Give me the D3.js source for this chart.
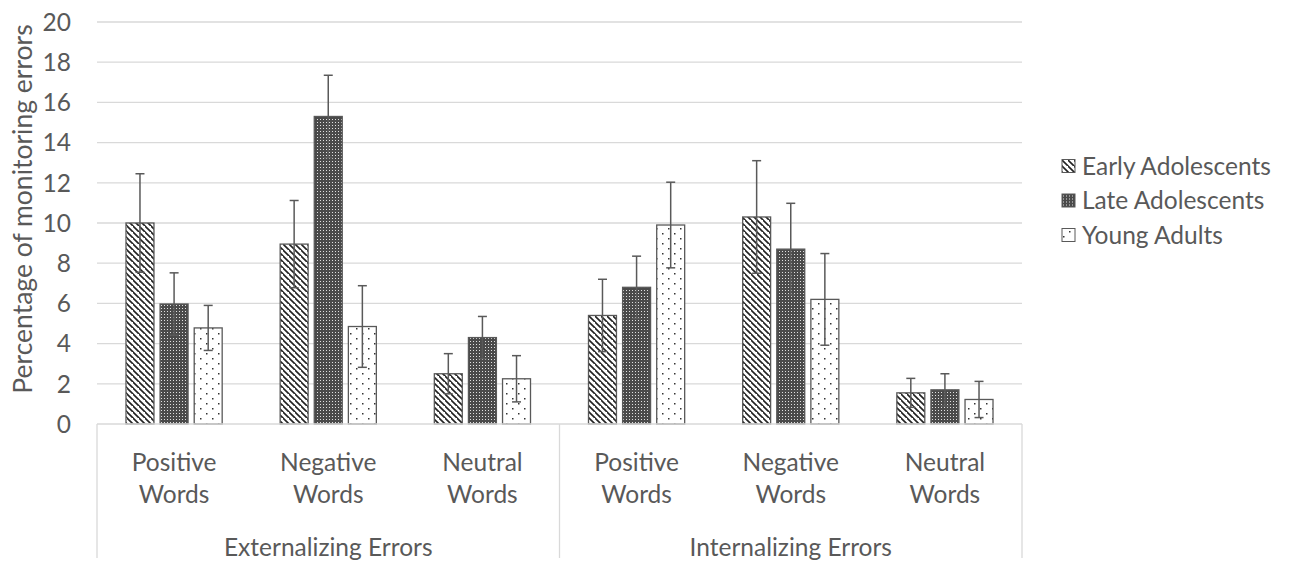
<!DOCTYPE html>
<html>
<head>
<meta charset="utf-8">
<script src="https://cdn.jsdelivr.net/npm/d3@7"></script>
<style>
  body { margin: 0; background: #fff; }
  text { font-family: Lato, "Open Sans", sans-serif; fill: #595959; }
</style>
</head>
<body>
<svg id="chart" width="1293" height="561"></svg>
<script>
// data
const groups = ["Externalizing Errors", "Internalizing Errors"];
const wordTypes = ["Positive Words", "Negative Words", "Neutral Words"];
const seriesNames = ["Early Adolescents", "Late Adolescents", "Young Adults"];
// means, one array per series, 6 categories (Ext pos/neg/neu, Int pos/neg/neu)
const earlyVals = [10.0, 8.95, 2.5, 5.4, 10.3, 1.55];
const lateVals  = [5.97, 15.3, 4.3, 6.8, 8.7, 1.7];
const youngVals = [4.78, 4.85, 2.25, 9.9, 6.2, 1.22];
// error bar half-widths
const earlyErr = [2.45, 2.17, 1.0, 1.8, 2.8, 0.72];
const lateErr  = [1.55, 2.05, 1.05, 1.55, 2.28, 0.8];
const youngErr = [1.12, 2.03, 1.15, 2.13, 2.28, 0.9];
const yTicks = [0, 2, 4, 6, 8, 10, 12, 14, 16, 18, 20];

const svg = d3.select("#chart");
const margin = {left: 97, right: 271, top: 22, bottom: 137};
const width = 1293 - margin.left - margin.right,
      height = 561 - margin.top - margin.bottom;
const fs = "24.5px";

// categories
const cats = [];
groups.forEach(g => wordTypes.forEach(w => cats.push(g + "|" + w)));
const allVals = [earlyVals, lateVals, youngVals];
const allErr = [earlyErr, lateErr, youngErr];
const data = [];
cats.forEach((c, i) => {
  seriesNames.forEach((s, j) => {
    data.push({cat: c, series: s, v: allVals[j][i], e: allErr[j][i], idx: j});
  });
});

// patterns
const defs = svg.append("defs");
const p1 = defs.append("pattern").attr("id", "pat0").attr("patternUnits", "userSpaceOnUse")
  .attr("width", 6).attr("height", 6);
p1.append("rect").attr("width", 6).attr("height", 6).attr("fill", "#fff");
p1.append("path").attr("d", "M-1,-1 L7,7 M-4,2 L2,8 M4,-4 L10,2")
  .attr("stroke", "#222").attr("stroke-width", 1.6);

const p2 = defs.append("pattern").attr("id", "pat1").attr("patternUnits", "userSpaceOnUse")
  .attr("width", 3).attr("height", 3);
p2.append("rect").attr("width", 3).attr("height", 3).attr("fill", "#4a4a4a");
p2.append("rect").attr("x", 1).attr("y", 1).attr("width", 1).attr("height", 1).attr("fill", "#e0e0e0");

const p3 = defs.append("pattern").attr("id", "pat2").attr("patternUnits", "userSpaceOnUse")
  .attr("width", 12).attr("height", 10);
p3.append("rect").attr("width", 12).attr("height", 10).attr("fill", "#fff");
p3.append("rect").attr("x", 1).attr("y", 1).attr("width", 1.5).attr("height", 1.5).attr("fill", "#333");
p3.append("rect").attr("x", 7).attr("y", 6).attr("width", 1.5).attr("height", 1.5).attr("fill", "#333");

const g = svg.append("g").attr("transform", `translate(${margin.left},${margin.top})`);

const x = d3.scaleBand().domain(cats).range([0, width]);
const xs = d3.scaleBand().domain(seriesNames).range([0, x.bandwidth()])
  .paddingInner(0.18).paddingOuter(0.85);
const y = d3.scaleLinear().domain([0, 20]).range([height, 0]);

// grid
g.selectAll("line.grid").data(yTicks.slice(1)).enter().append("line")
  .attr("x1", 0).attr("x2", width)
  .attr("y1", d => y(d)).attr("y2", d => y(d))
  .attr("stroke", "#d9d9d9").attr("stroke-width", 1.3);

// y tick labels
g.selectAll("text.ytick").data(yTicks).enter().append("text")
  .attr("x", -26).attr("y", d => y(d)).attr("dy", "0.36em")
  .attr("text-anchor", "end").style("font-size", fs)
  .text(d => d);

// bars
g.selectAll("rect.bar").data(data).enter().append("rect")
  .attr("x", d => x(d.cat) + xs(d.series))
  .attr("y", d => y(d.v))
  .attr("width", xs.bandwidth())
  .attr("height", d => height - y(d.v))
  .attr("fill", d => `url(#pat${d.idx})`)
  .attr("stroke", "#595959").attr("stroke-width", 1.3);

// error bars
const eb = g.selectAll("g.err").data(data).enter().append("g")
  .attr("transform", d => `translate(${x(d.cat) + xs(d.series) + xs.bandwidth() / 2},0)`);
eb.append("line").attr("y1", d => y(d.v - d.e)).attr("y2", d => y(d.v + d.e))
  .attr("stroke", "#595959").attr("stroke-width", 1.5);
eb.append("line").attr("x1", -4.5).attr("x2", 4.5)
  .attr("y1", d => y(d.v + d.e)).attr("y2", d => y(d.v + d.e))
  .attr("stroke", "#595959").attr("stroke-width", 1.5);
eb.append("line").attr("x1", -4.5).attr("x2", 4.5)
  .attr("y1", d => y(d.v - d.e)).attr("y2", d => y(d.v - d.e))
  .attr("stroke", "#595959").attr("stroke-width", 1.5);

// baseline + group separators
g.append("line").attr("x1", 0).attr("x2", width).attr("y1", height).attr("y2", height)
  .attr("stroke", "#d9d9d9").attr("stroke-width", 1.3);
const sepX = [0, x(cats[3]), width];
g.selectAll("line.sep").data(sepX).enter().append("line")
  .attr("x1", d => d).attr("x2", d => d)
  .attr("y1", height).attr("y2", height + 134)
  .attr("stroke", "#d9d9d9").attr("stroke-width", 1.3);

// category labels (two lines)
cats.forEach(c => {
  const parts = c.split("|")[1].split(" ");
  const cx = x(c) + x.bandwidth() / 2;
  const t = g.append("text")
    .attr("x", cx).attr("y", height + 38).attr("dy", "0.36em")
    .attr("text-anchor", "middle").style("font-size", fs);
  t.append("tspan").attr("x", cx).text(parts[0]);
  t.append("tspan").attr("x", cx).attr("dy", 32).text(parts[1]);
});

// group labels
groups.forEach((gr, i) => {
  const mid = x(cats[i * 3 + 1]) + x.bandwidth() / 2;
  g.append("text").attr("x", mid).attr("y", height + 123).attr("dy", "0.36em")
    .attr("text-anchor", "middle").style("font-size", fs).text(gr);
});

// y axis title
svg.append("text")
  .attr("transform", `translate(22,209) rotate(-90)`)
  .attr("dy", "0.36em")
  .attr("text-anchor", "middle").style("font-size", "26.5px")
  .text("Percentage of monitoring errors");

// legend
const leg = svg.append("g").attr("transform", "translate(1062,166)");
seriesNames.forEach((s, i) => {
  const row = leg.append("g").attr("transform", `translate(0,${i * 34.5})`);
  row.append("rect").attr("y", -6.5).attr("width", 13).attr("height", 13)
    .attr("fill", `url(#pat${i})`).attr("stroke", "#595959").attr("stroke-width", 1);
  row.append("text").attr("x", 20).attr("y", 0).attr("dy", "0.36em")
    .style("font-size", fs).text(s);
});
</script>
</body>
</html>
